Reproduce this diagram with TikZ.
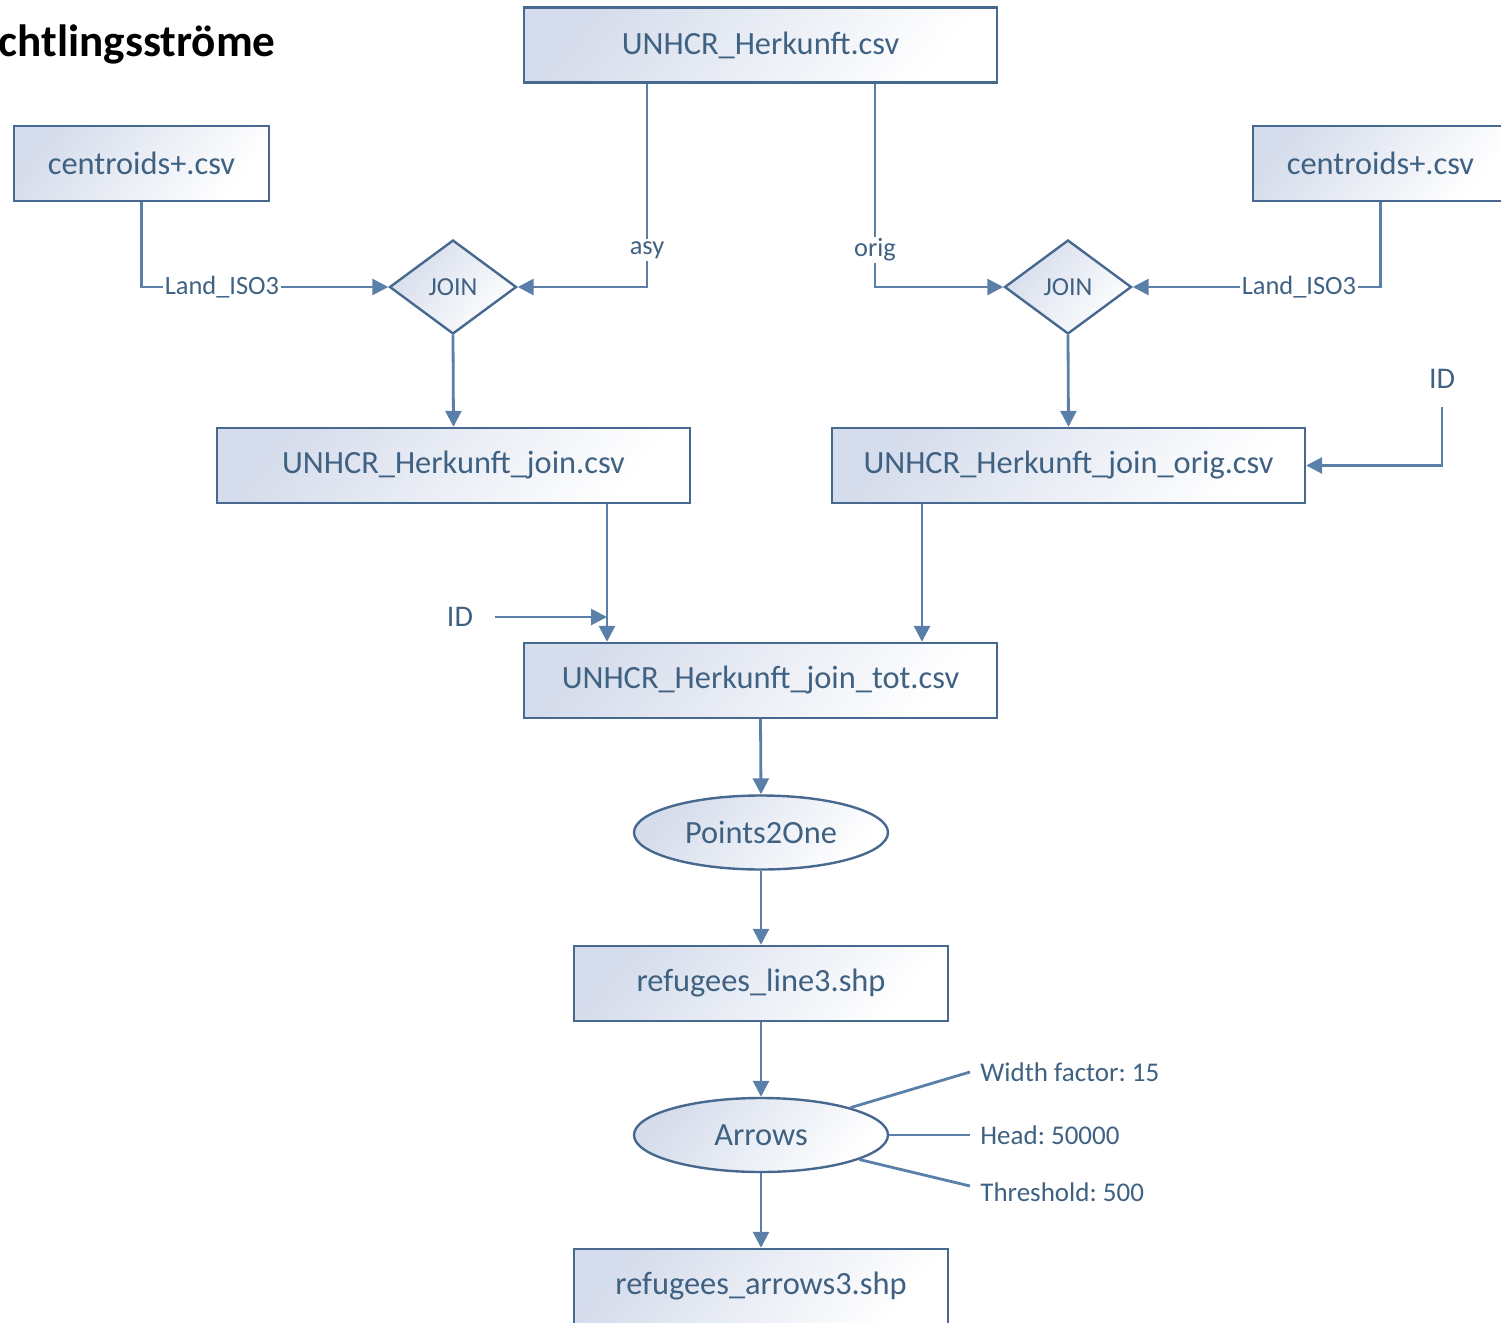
\documentclass[tikz,border=0pt]{standalone}
\usepackage{fontspec}
\setmainfont{Carlito}
\frenchspacing
\usetikzlibrary{shapes.geometric,arrows.meta,calc}
\definecolor{linec}{HTML}{5A7FA8}
\definecolor{bordc}{HTML}{47698F}
\definecolor{txtc}{HTML}{3F6182}
\definecolor{shadec}{HTML}{D5DCEB}
\begin{document}
\begin{tikzpicture}[x=0.5pt,y=-0.5pt,
  fillg/.style={top color=shadec, bottom color=white, shading angle=50},
  box/.style={draw=bordc, line width=1.2pt, fillg, minimum height=37.5pt, inner sep=0pt, text=txtc, font=\fontsize{16.2}{19}\selectfont},
  wbox/.style={box, minimum width=236.5pt},
  sbox/.style={box, minimum width=127.5pt},
  mbox/.style={box, minimum width=187pt},
  joinnode/.style={diamond, draw=bordc, line width=1.2pt, fillg, minimum width=63.5pt, minimum height=47pt, inner sep=0pt, text=txtc, font=\fontsize{13}{15}\selectfont},
  proc/.style={ellipse, draw=bordc, line width=1.2pt, fillg, minimum width=127pt, minimum height=37pt, inner sep=0pt, text=txtc, font=\fontsize{16.2}{19}\selectfont},
  conn/.style={draw=linec, line width=1.4pt},
  arr/.style={conn, -{Triangle[length=8pt,width=8pt]}},
  lbl/.style={fill=white, inner sep=1pt, text=txtc, font=\fontsize{13.2}{16}\selectfont},
  idlbl/.style={inner sep=0pt, text=txtc, font=\fontsize{15}{18}\selectfont},
  param/.style={anchor=west, inner sep=0pt, text=txtc, font=\fontsize{13.5}{16}\selectfont}
]
\useasboundingbox (0,0) rectangle (1501,1323);

% title
\node[anchor=base east, inner sep=0pt, font=\fontsize{22.6}{27}\bfseries\selectfont] (title) at (276,56) {chtlingsströme};

% nodes
\node[wbox] (herk) at (760.5,45) {UNHCR\_Herkunft.csv};
\node[sbox] (centl) at (141.5,163.5) {centroids+.csv};
\node[sbox] (centr) at (1380.5,163.5) {centroids+.csv};
\node[joinnode] (j1) at (453,287) {JOIN};
\node[joinnode] (j2) at (1068,287) {JOIN};
\node[wbox] (join) at (453.5,465.5) {UNHCR\_Herkunft\_join.csv};
\node[wbox] (jorig) at (1068.5,465.5) {UNHCR\_Herkunft\_join\_orig.csv};
\node[wbox] (jtot) at (760.5,680.5) {UNHCR\_Herkunft\_join\_tot.csv};
\node[proc] (p2o) at (761,832.5) {Points2One};
\node[mbox] (line3) at (761,983.5) {refugees\_line3.shp};
\node[proc] (arrows) at (761,1135) {Arrows};
\node[mbox] (arr3) at (761,1286.5) {refugees\_arrows3.shp};

% ID labels and free ends
\node[idlbl] (idl) at (460,617) {ID};
\node[idlbl] (idr) at (1442,379) {ID};
\coordinate (idls) at (495,617);
\coordinate (idle) at (607,617);
\coordinate (idrs) at (1442,407);

% parameter labels
\node[param] (wf) at (980,1072) {Width factor: 15};
\node[param] (hd) at (980,1135) {Head: 50000};
\node[param] (th) at (980,1192) {Threshold: 500};

% connectors
\draw[arr] (herk.south -| 647,0) |- (j1.east);
\draw[arr] (herk.south -| 875,0) |- (j2.west);
\draw[arr] (centl.south) |- (j1.west);
\draw[arr] (centr.south) |- (j2.east);
\node[lbl] (asy) at (647,250) {asy};
\node[lbl] (orig) at (875,250) {orig};
\node[lbl] (isol) at (222,287) {Land\_ISO3};
\node[lbl] (isor) at (1299,287) {Land\_ISO3};

\draw[arr] (j1.south) -- (join.north);
\draw[arr] (j2.south) -- (jorig.north);
\draw[arr] (idrs) |- (jorig.east);
\draw[arr] (join.south -| 607,0) -- (jtot.north -| 607,0);
\draw[arr] (idls) -- (idle);
\draw[arr] (jorig.south -| 922,0) -- (jtot.north -| 922,0);
\draw[arr] (jtot.south) -- (p2o.north);
\draw[arr] (p2o.south) -- (line3.north);
\draw[arr] (line3.south) -- (arrows.north);
\draw[arr] (arrows.south) -- (arr3.north);

\draw[conn] (arrows.17) -- ([xshift=-5pt]wf.west);
\draw[conn] (arrows.east) -- ([xshift=-5pt]hd.west);
\draw[conn] (arrows.-14) -- ([xshift=-5pt,yshift=3pt]th.west);
\end{tikzpicture}
\end{document}
